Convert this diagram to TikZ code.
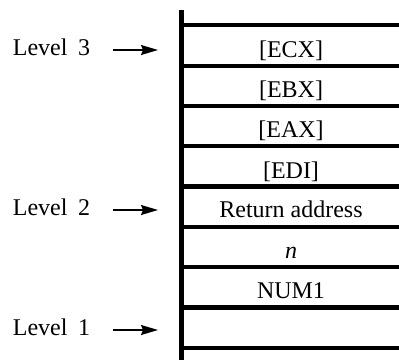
\documentclass[tikz,border=0pt]{standalone}
\usepackage{fontspec}
\setmainfont{Liberation Serif}
\usetikzlibrary{arrows.meta}
\begin{document}
\begin{tikzpicture}[x=1pt,y=-1pt,
  bar/.style={line width=4.6pt},
  rule/.style={line width=4.2pt},
  celltext/.style={anchor=base,font=\fontsize{24}{28}\selectfont,inner sep=0pt},
  lvl/.style={anchor=base west,font=\fontsize{24}{28}\selectfont,inner sep=0pt},
  ptr/.style={line width=1.3pt,-{Stealth[length=17pt,width=10pt,inset=2pt]}}]
\useasboundingbox (0,0) rectangle (399,360);
% stack frame
\coordinate (bartop) at (181.5,10);
\coordinate (barbot) at (181.5,360);
\draw[bar] (bartop) -- (barbot);
\foreach \i in {0,...,8}{
  \coordinate (l\i) at (179.5,{25.3+40.3*\i});
  \coordinate (r\i) at (399,{25.3+40.3*\i});
  \draw[rule] (l\i) -- (r\i);
}
% cell contents
\node[celltext] (ecx)  at (291,{65.6-8.5})  {[ECX]};
\node[celltext] (ebx)  at (291,{105.9-8.5}) {[EBX]};
\node[celltext] (eax)  at (291,{146.2-8.5}) {[EAX]};
\node[celltext] (edi)  at (291,{186.5-8.5}) {[EDI]};
\node[celltext] (ret)  at (291,{226.8-9.5}) {Return address};
\node[celltext] (n)    at (291,{267.1-8.5}) {\textit{n}};
\node[celltext] (num1) at (291,{307.4-8.5}) {NUM1};
% level labels and pointers
\node[lvl] (lv3) at (12.7,55)  {Level\hspace{10.5pt}3};
\node[lvl] (lv2) at (12.7,215) {Level\hspace{10.5pt}2};
\node[lvl] (lv1) at (12.7,335) {Level\hspace{10.5pt}1};
\coordinate (a3s) at (113,50);  \coordinate (a3e) at (158,50);
\coordinate (a2s) at (113,210); \coordinate (a2e) at (158,210);
\coordinate (a1s) at (113,330); \coordinate (a1e) at (158,330);
\draw[ptr] (a3s) -- (a3e);
\draw[ptr] (a2s) -- (a2e);
\draw[ptr] (a1s) -- (a1e);
\end{tikzpicture}
\end{document}
